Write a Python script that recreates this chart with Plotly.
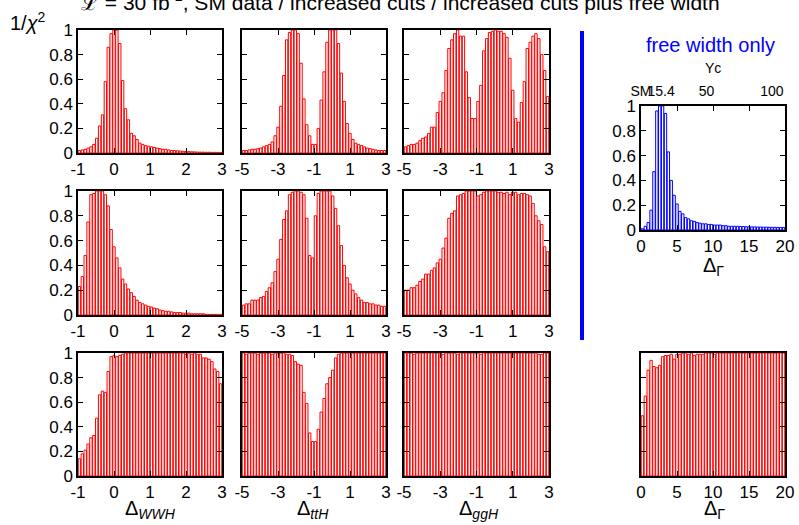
import numpy as np
import plotly.graph_objects as go

W, H = 799, 525

# ---------------- data (1/chi^2 histograms, 50 bins each) ----------------
wwh_range = [-1, 3]
tth_range = [-5, 3]
ggh_range = [-5, 3]
gam_range = [0, 20]

wwh_sm = [0.02, 0.025, 0.03, 0.04, 0.05, 0.07, 0.12, 0.22, 0.31, 0.58,
          0.86, 0.97, 1.0, 1.0, 0.89, 0.59, 0.36, 0.27, 0.16, 0.14,
          0.11, 0.08, 0.07, 0.06, 0.055, 0.05, 0.045, 0.04, 0.035, 0.03,
          0.03, 0.025, 0.02, 0.02, 0.018, 0.016, 0.014, 0.012, 0.011, 0.01,
          0.009, 0.008, 0.007, 0.007, 0.006, 0.006, 0.005, 0.005, 0.005, 0.005]
tth_sm = [0.02, 0.02, 0.025, 0.03, 0.03, 0.035, 0.04, 0.05, 0.06, 0.07,
          0.09, 0.14, 0.21, 0.38, 0.63, 0.92, 0.98, 1.0, 1.0, 0.97,
          0.73, 0.44, 0.23, 0.14, 0.07, 0.07, 0.2, 0.43, 0.66, 0.9,
          1.0, 1.0, 1.0, 0.89, 0.65, 0.42, 0.24, 0.16, 0.11, 0.08,
          0.07, 0.06, 0.05, 0.04, 0.035, 0.03, 0.025, 0.02, 0.02, 0.02]
ggh_sm = [0.05, 0.06, 0.07, 0.07, 0.08, 0.10, 0.12, 0.13, 0.16, 0.21,
          0.21, 0.33, 0.42, 0.49, 0.67, 0.85, 0.92, 0.97, 1.0, 0.95,
          0.95, 0.66, 0.45, 0.28, 0.28, 0.42, 0.55, 0.83, 0.93, 0.98,
          0.99, 1.0, 0.99, 0.99, 0.97, 0.94, 0.77, 0.51, 0.28, 0.25,
          0.41, 0.58, 0.85, 0.90, 0.95, 0.97, 0.93, 0.80, 0.67, 0.46]
gam_free = [0.01, 0.03, 0.06, 0.16, 0.47, 0.96, 1.0, 1.0, 0.94, 0.63,
            0.40, 0.28, 0.21, 0.15, 0.13, 0.10, 0.09, 0.075, 0.07, 0.06,
            0.055, 0.05, 0.05, 0.045, 0.045, 0.04, 0.04, 0.04, 0.035, 0.035,
            0.03, 0.03, 0.03, 0.03, 0.028, 0.028, 0.026, 0.026, 0.025, 0.025,
            0.024, 0.024, 0.023, 0.023, 0.022, 0.022, 0.021, 0.021, 0.02, 0.02]

wwh_inc = [0.23, 0.31, 0.48, 0.75, 0.97, 0.98, 1.0, 1.0, 1.0, 0.97,
           0.88, 0.69, 0.55, 0.46, 0.38, 0.29, 0.25, 0.21, 0.18, 0.15,
           0.12, 0.10, 0.09, 0.08, 0.07, 0.065, 0.055, 0.05, 0.04, 0.035,
           0.03, 0.03, 0.025, 0.02, 0.02, 0.02, 0.015, 0.015, 0.015, 0.01,
           0.01, 0.01, 0.01, 0.01, 0.005, 0.005, 0.005, 0.005, 0.005, 0.005]
tth_inc = [0.08, 0.09, 0.09, 0.12, 0.12, 0.12, 0.14, 0.15, 0.19, 0.22,
           0.26, 0.35, 0.45, 0.61, 0.77, 0.84, 0.97, 0.99, 1.0, 1.0,
           0.99, 0.97, 0.78, 0.48, 0.46, 0.80, 0.98, 1.0, 1.0, 1.0,
           1.0, 0.96, 0.86, 0.72, 0.56, 0.40, 0.30, 0.25, 0.20, 0.17,
           0.14, 0.12, 0.10, 0.10, 0.09, 0.09, 0.08, 0.08, 0.07, 0.07]
ggh_inc = [0.20, 0.20, 0.22, 0.22, 0.24, 0.27, 0.29, 0.33, 0.33, 0.36,
           0.38, 0.42, 0.45, 0.54, 0.62, 0.78, 0.82, 0.84, 0.96, 0.97,
           0.98, 1.0, 1.0, 1.0, 1.0, 0.96, 0.97, 0.99, 1.0, 1.0,
           1.0, 1.0, 0.99, 0.99, 0.98, 0.99, 0.97, 0.99, 0.99, 0.97,
           0.98, 0.98, 0.97, 0.96, 0.90, 0.80, 0.76, 0.73, 0.55, 0.51]

wwh_free = [0.14, 0.18, 0.21, 0.26, 0.31, 0.33, 0.47, 0.66, 0.69, 0.68,
            0.85, 0.97, 0.98, 0.97, 0.98, 0.99, 1.0, 1.0, 1.0, 1.0,
            1.0, 1.0, 1.0, 1.0, 1.0, 1.0, 1.0, 1.0, 1.0, 1.0,
            1.0, 1.0, 1.0, 1.0, 1.0, 1.0, 1.0, 0.99, 1.0, 0.99,
            1.0, 0.99, 0.99, 0.96, 0.96, 0.95, 0.93, 0.87, 0.85, 0.75]
tth_free = [1.0, 0.99, 1.0, 1.0, 1.0, 0.99, 1.0, 1.0, 1.0, 1.0,
            0.99, 1.0, 1.0, 1.0, 1.0, 0.99, 0.99, 0.98, 0.93, 0.91,
            0.90, 0.68, 0.59, 0.35, 0.28, 0.28, 0.38, 0.52, 0.63, 0.75,
            0.80, 0.86, 0.96, 0.99, 1.0, 1.0, 1.0, 1.0, 1.0, 1.0,
            1.0, 1.0, 1.0, 1.0, 1.0, 1.0, 1.0, 1.0, 1.0, 1.0]
ggh_free = [1.0, 1.0, 1.0, 0.99, 1.0, 1.0, 1.0, 1.0, 1.0, 1.0,
            1.0, 1.0, 1.0, 0.99, 1.0, 1.0, 1.0, 1.0, 0.99, 1.0,
            1.0, 1.0, 1.0, 1.0, 1.0, 1.0, 0.99, 1.0, 1.0, 1.0,
            1.0, 1.0, 1.0, 1.0, 1.0, 1.0, 1.0, 1.0, 1.0, 1.0,
            1.0, 1.0, 1.0, 1.0, 1.0, 1.0, 0.99, 0.99, 1.0, 1.0]
gam_inc_free = [0.49, 0.65, 0.86, 0.94, 0.89, 0.88, 0.90, 0.97, 0.98, 0.98,
                0.99, 0.95, 0.99, 0.99, 1.0, 1.0, 0.99, 1.0, 0.98, 0.99,
                0.99, 0.99, 1.0, 1.0, 1.0, 0.99, 1.0, 1.0, 1.0, 1.0,
                1.0, 1.0, 1.0, 1.0, 1.0, 1.0, 1.0, 1.0, 1.0, 1.0,
                1.0, 1.0, 1.0, 1.0, 1.0, 1.0, 1.0, 1.0, 1.0, 1.0]

wwh_ticks = [-1, 0, 1, 2, 3]
wide_ticks = [-5, -3, -1, 1, 3]
gam_ticks = [0, 5, 10, 15, 20]
y_ticks = [0, 0.2, 0.4, 0.6, 0.8, 1]
y_ticktext = ["0", "0.2", "0.4", "0.6", "0.8", "1"]
yc_ticks = [0, 15.4, 50, 100]
yc_ticktext = ["SM", "15.4", "50", "100"]
yc_range = [0, 110]

# ---------------- layout geometry (pixels) ----------------
cols = {1: (78, 222), 2: (242, 386), 3: (404, 549), 4: (641, 785)}
rows = {1: (30, 153), 2: (191, 315), 3: (353, 476), 'f': (106, 230)}

def dx(c):
    a, b = cols[c]
    return [a / W, b / W]

def dy(r):
    a, b = rows[r]
    return [1 - b / H, 1 - a / H]

FONT = "Liberation Sans, Arial, sans-serif"

panels = [
    # values, range, ticks, col, row, color, show y labels
    (wwh_sm, wwh_range, wwh_ticks, 1, 1, "red", True),
    (tth_sm, tth_range, wide_ticks, 2, 1, "red", False),
    (ggh_sm, ggh_range, wide_ticks, 3, 1, "red", False),
    (gam_free, gam_range, gam_ticks, 4, 'f', "blue", True),
    (wwh_inc, wwh_range, wwh_ticks, 1, 2, "red", True),
    (tth_inc, tth_range, wide_ticks, 2, 2, "red", False),
    (ggh_inc, ggh_range, wide_ticks, 3, 2, "red", False),
    (wwh_free, wwh_range, wwh_ticks, 1, 3, "red", True),
    (tth_free, tth_range, wide_ticks, 2, 3, "red", False),
    (ggh_free, ggh_range, wide_ticks, 3, 3, "red", False),
    (gam_inc_free, gam_range, gam_ticks, 4, 3, "red", False),
]

fig = go.Figure()
layout = {}
for i, (vals, rng, ticks, c, r, color, showy) in enumerate(panels, start=1):
    edges = np.linspace(rng[0], rng[1], len(vals) + 1)
    centers = 0.5 * (edges[:-1] + edges[1:])
    bw = edges[1] - edges[0]
    sfx = "" if i == 1 else str(i)
    fig.add_trace(go.Bar(
        x=centers, y=vals, width=bw * 0.82,
        marker=dict(color="rgba(255,255,255,0)", line=dict(color=color, width=1)),
        xaxis="x" + sfx, yaxis="y" + sfx, showlegend=False, hoverinfo="skip"))
    axcommon = dict(showline=True, linecolor="black", linewidth=1.5, mirror="ticks",
                    ticks="inside", ticklen=5, tickcolor="black", tickwidth=1,
                    showgrid=False, zeroline=False, automargin=False,
                    tickfont=dict(family=FONT, size=17, color="black"))
    layout["xaxis" + sfx] = dict(axcommon, domain=dx(c), anchor="y" + sfx, range=rng,
                                 tickvals=ticks, ticktext=[str(t) for t in ticks],
                                 tickangle=0)
    layout["yaxis" + sfx] = dict(axcommon, domain=dy(r), anchor="x" + sfx, range=[0, 1],
                                 tickvals=y_ticks, ticktext=y_ticktext, showticklabels=showy)

# top Yc axis of the free width panel
fig.add_trace(go.Scatter(x=yc_ticks, y=[0] * len(yc_ticks), xaxis="x12", yaxis="y4",
                         mode="markers", marker=dict(opacity=0), showlegend=False,
                         hoverinfo="skip"))
layout["xaxis12"] = dict(overlaying="x4", side="top", anchor="y4", range=yc_range,
                         tickvals=yc_ticks, ticktext=yc_ticktext, ticks="",
                         tickangle=0, automargin=False, ticklabelstandoff=6,
                         showgrid=False, zeroline=False, showline=False,
                         tickfont=dict(family=FONT, size=14, color="black"))

annotations = [
    dict(text="ℒ = 30 fb<sup>-1</sup>, SM data / increased cuts / increased cuts plus free width",
         x=400 / W, y=1 - 1 / H, font=dict(size=21)),
    dict(text="1/<i>χ</i><sup>2</sup>", x=28 / W, y=1 - 22 / H, font=dict(size=20)),
    dict(text="free width only", x=710 / W, y=1 - 45 / H, font=dict(size=20, color="blue")),
    dict(text="Yc", x=713 / W, y=1 - 68 / H, font=dict(size=14)),
    dict(text="Δ<sub>Γ</sub>", x=713 / W, y=1 - 266 / H, font=dict(size=20)),
    dict(text="Δ<sub><i>WWH</i></sub>", x=150 / W, y=1 - 509 / H, font=dict(size=20)),
    dict(text="Δ<sub><i>ttH</i></sub>", x=313 / W, y=1 - 509 / H, font=dict(size=20)),
    dict(text="Δ<sub><i>ggH</i></sub>", x=479 / W, y=1 - 509 / H, font=dict(size=20)),
    dict(text="Δ<sub>Γ</sub>", x=714 / W, y=1 - 509 / H, font=dict(size=20)),
]
for a in annotations:
    a.update(xref="paper", yref="paper", showarrow=False, xanchor="center", yanchor="middle")
    f = dict(family=FONT, color="black")
    f.update(a["font"])
    a["font"] = f

fig.update_layout(
    **layout,
    width=W, height=H,
    margin=dict(l=0, r=0, t=0, b=0, pad=0, autoexpand=False),
    paper_bgcolor="white", plot_bgcolor="white",
    barmode="overlay",
    annotations=annotations,
    shapes=[dict(type="line", xref="paper", yref="paper",
                 x0=582 / W, x1=582 / W, y0=1 - 340 / H, y1=1 - 31 / H,
                 line=dict(color="blue", width=4))],
    font=dict(family=FONT),
)

fig.write_html("out.html", config={"displayModeBar": False},
               post_script="document.body.style.margin='0';document.body.style.overflow='hidden';")
